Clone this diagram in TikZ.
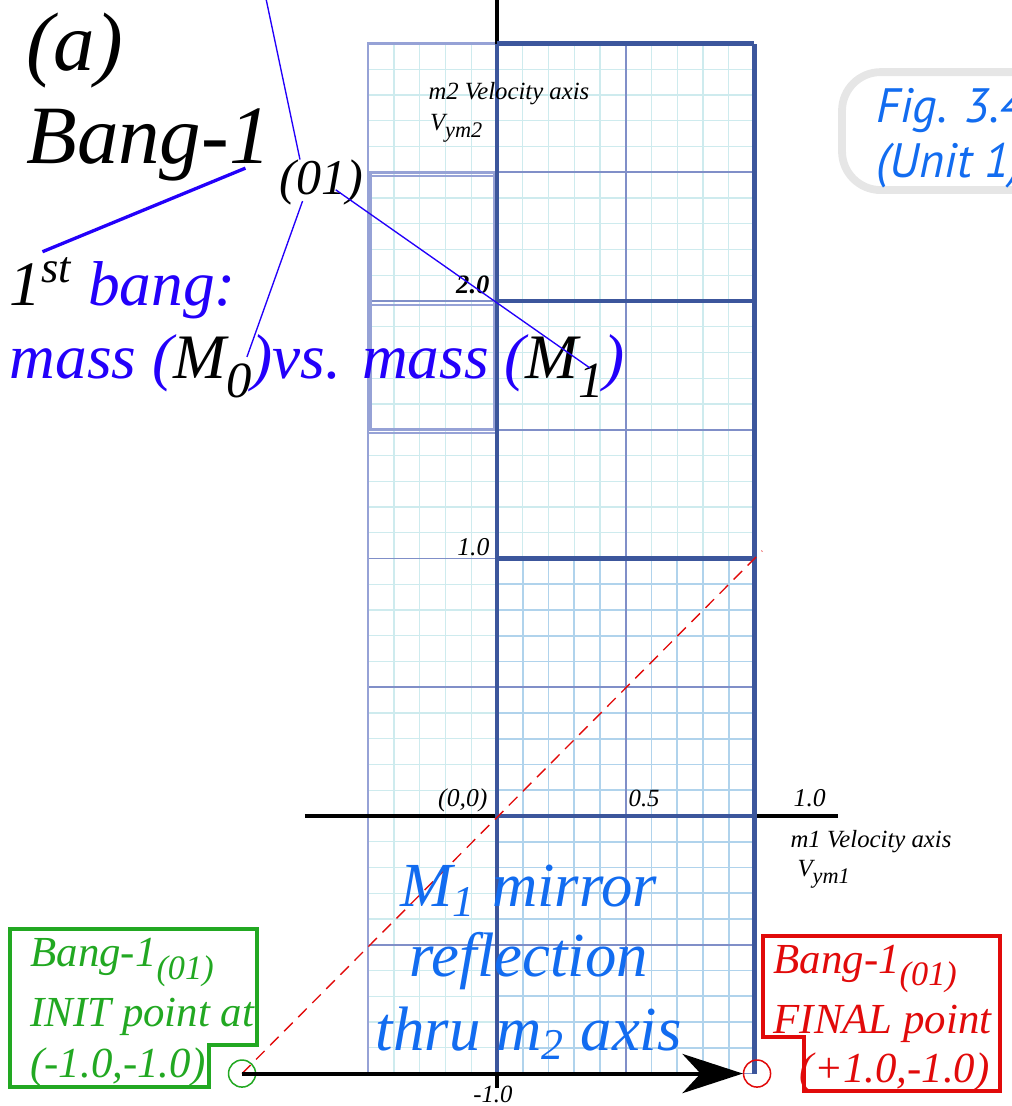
\documentclass[tikz,border=0pt]{standalone}
\usepackage{fontspec}
\setmainfont{Liberation Serif}
\newfontfamily\figfont{PT Sans}
\usetikzlibrary{arrows.meta, calc}
\definecolor{palecyan}{RGB}{206,235,238}
\definecolor{gridblue}{RGB}{176,211,236}
\definecolor{midblue}{RGB}{128,143,200}
\definecolor{deepblue}{RGB}{60,86,156}
\definecolor{colblue}{RGB}{150,162,214}
\definecolor{bangblue}{RGB}{35,0,250}
\definecolor{skyblue}{RGB}{18,108,240}
\definecolor{initgreen}{RGB}{34,168,34}
\definecolor{finalred}{RGB}{225,10,10}
\definecolor{framegray}{RGB}{230,230,230}
\newcommand{\dropsub}[2][0.8]{\raisebox{-0.3em}{\scalebox{#1}{#2}}}

\begin{document}
\begin{tikzpicture}[x=3cm, y=3cm,
  every node/.style={inner sep=0pt},
  tinytxt/.style={font=\fontsize{8.2}{10}\selectfont\itshape},
  ticktxt/.style={font=\fontsize{8.5}{10}\selectfont\itshape},
  hugetxt/.style={font=\fontsize{27.5}{30}\selectfont\itshape},
  tagtxt/.style={font=\fontsize{16.6}{18}\selectfont\itshape},
  bangtxt/.style={font=\fontsize{21}{24}\selectfont\itshape},
  pointtxt/.style={font=\fontsize{14.2}{16}\selectfont\itshape},
  mirrortxt/.style={font=\fontsize{20.8}{24}\selectfont\itshape, text=skyblue},
  figtxt/.style={font=\fontsize{16}{18}\selectfont\figfont\itshape, text=skyblue},
  callout/.style={draw=bangblue, line width=0.45pt},
  thickgrid/.style={draw=deepblue, line width=1.5pt},
  axisline/.style={draw=black, line width=1.3pt},
  dotmark/.style={circle, draw, line width=0.5pt, minimum size=0.105*3cm}]

  \useasboundingbox (-1.930,-1.126) rectangle (2.0,3.169);
  \clip (-1.930,-1.126) rectangle (2.0,3.169);

  \draw[step=0.1, palecyan, line width=0.4pt] (-0.5,-1) grid (0,3);
  \draw[step=0.1, palecyan, line width=0.4pt] (0,1) grid (1,3);
  \draw[step=0.1, gridblue, line width=0.55pt] (0,-1) grid (1,1);
  \draw[step=0.5, midblue, line width=0.6pt] (-0.5,-1) grid (1,3);
  \draw[colblue, line width=0.8pt] (-0.5,-1) rectangle (0,3);
  \draw[colblue, line width=1.1pt] (-0.49,1.5) rectangle (-0.01,2.5);
  \foreach \y in {1.5,2,2.5}
    \draw[colblue, line width=0.6pt] (-0.5,\y-0.014) -- (0,\y-0.014);

  \draw[axisline] (0,3) -- (0,3.2);
  \draw[axisline] (-0.746,0) -- (1.324,0);
  \draw[thickgrid] (0,-1) -- (0,3);
  \draw[thickgrid] (1,-1) -- (1,3);
  \foreach \y in {0,1,2,3}
    \draw[thickgrid] (0,\y) -- (1,\y);
  \draw[axisline] (0,-1) -- (0,-1.055);

  \node[tinytxt, anchor=base west] (m2axis) at (-0.268,2.784) {m2 Velocity axis};
  \node[tinytxt, anchor=base west] (vym2) at (-0.262,2.664) {V\dropsub[0.9]{ym2}};
  \node[ticktxt, anchor=base east, font=\fontsize{8.8}{10}\selectfont\bfseries\itshape] (two) at (-0.027,2.031) {2.0};
  \node[ticktxt, anchor=base east] (oneup) at (-0.027,1.010) {1.0};
  \node[ticktxt, anchor=base east] (origin) at (-0.035,0.039) {(0,0)};
  \node[tinytxt, anchor=base west] (half) at (0.509,0.039) {0.5};
  \node[ticktxt, anchor=base west] (oneright) at (1.150,0.039) {1.0};
  \node[tinytxt, anchor=base west] (m1axis) at (1.138,-0.124) {m1 Velocity axis};
  \node[tinytxt, anchor=base west] (vym1) at (1.165,-0.233) {V\dropsub[0.9]{ym1}};
  \node[tinytxt, anchor=base] (minusone) at (-0.016,-1.111) {-1.0};

  \node[dotmark, draw=initgreen] (init) at (-0.99,-1) {};
  \node[dotmark, draw=finalred] (final) at (1.01,-1) {};
  \coordinate (diagend) at (1.03,1.03);
  \draw[finalred, line width=0.45pt, dash pattern=on 4pt off 2.6pt] (init.center) -- (diagend);
  \draw[axisline, -{Stealth[length=20pt, width=13pt, inset=6pt]}] (init.center) -- (final.west);

  \node[mirrortxt, anchor=base] (mirror1) at (0.124,-0.353) {M\textsubscript{1} mirror};
  \node[mirrortxt, anchor=base] (mirror2) at (0.124,-0.625) {reflection};
  \node[mirrortxt, anchor=base] (mirror3) at (0.124,-0.909) {thru m\textsubscript{2} axis};

  \draw[initgreen, line width=1.3pt] (-1.891,-0.439) -- (-0.932,-0.439) -- (-0.932,-0.889)
    -- (-1.118,-0.889) -- (-1.118,-1.052) -- (-1.891,-1.052) -- cycle;
  \node[pointtxt, text=initgreen, anchor=base west] (init1) at (-1.814,-0.586) {Bang-1\dropsub{(01)}};
  \node[pointtxt, text=initgreen, anchor=base west] (init2) at (-1.814,-0.819) {INIT point at};
  \node[pointtxt, text=initgreen, anchor=base west] (init3) at (-1.814,-1.014) {(-1.0,-1.0)};

  \draw[finalred, line width=1.3pt] (1.033,-0.466) -- (1.953,-0.466) -- (1.953,-1.068)
    -- (1.192,-1.068) -- (1.192,-0.858) -- (1.033,-0.858) -- cycle;
  \node[pointtxt, text=finalred, anchor=base west] (final1) at (1.072,-0.610) {Bang-1\dropsub{(01)}};
  \node[pointtxt, text=finalred, anchor=base west] (final2) at (1.072,-0.843) {FINAL point};
  \node[pointtxt, text=finalred, anchor=base east] (final3) at (1.915,-1.033) {(+1.0,-1.0)};

  \draw[framegray, line width=2.6pt, rounded corners=0.45cm] (1.34,2.431) rectangle (2.4,2.889);
  \node[figtxt, anchor=base west] (fig1) at (1.472,2.695) {Fig. 3.4};
  \node[figtxt, anchor=base west] (fig2) at (1.472,2.481) {(Unit 1)};

  \node[hugetxt, anchor=base west] (panel) at (-1.83,2.897) {(a)};
  \node[hugetxt, anchor=base west] (bang) at (-1.83,2.536) {Bang-1};
  \node[tagtxt, anchor=base west] (tag) at (-0.845,2.412) {(01)};
  \node[bangtxt, anchor=base west] (first) at (-1.895,1.984)
    {1\textsuperscript{st} \textcolor{bangblue}{bang:}};
  \node[bangtxt, anchor=base west, text=bangblue] (masses) at (-1.895,1.701)
    {mass (\textcolor{black}{M\dropsub{0}})vs. mass (\textcolor{black}{M\dropsub{1}})};

  \coordinate (topend) at (-0.913,3.25);
  \coordinate (m0end) at (-0.971,1.783);
  \coordinate (m1end) at (0.361,1.740);
  \draw[callout] (topend) -- ($(tag.north west)+(0.08,0)$);
  \draw[callout, line width=1.1pt] ($(bang.base east)+(-0.1,-0.02)$) -- ($(first.north west)+(0.13,0.02)$);
  \draw[callout] ($(tag.south west)+(0.09,0.02)$) -- (m0end);
  \draw[callout] ($(tag.base east)+(-0.11,0.02)$) -- (m1end);
\end{tikzpicture}
\end{document}
